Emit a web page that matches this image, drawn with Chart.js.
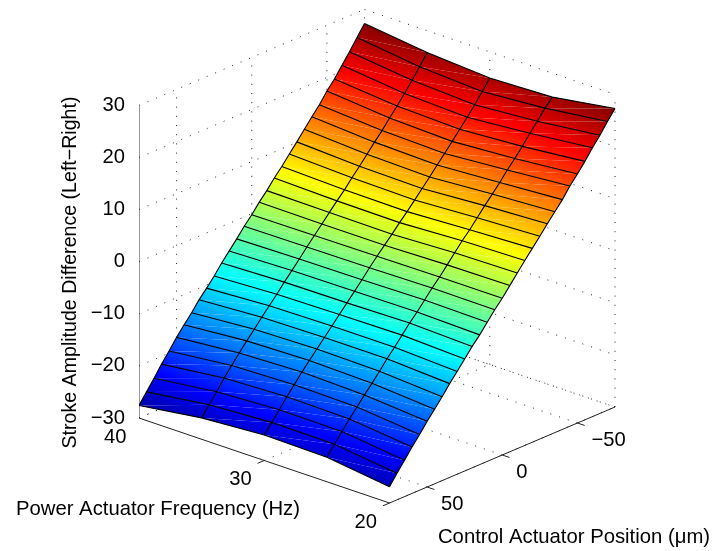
<!DOCTYPE html>
<html><head><meta charset="utf-8">
<style>html,body{margin:0;padding:0;background:#fff;overflow:hidden}canvas{display:block}</style>
<script src="https://cdn.jsdelivr.net/npm/chart.js@4"></script>
</head><body><canvas id="c" width="715" height="551"></canvas>
<script>
const ctrlValues = [75,70,65,60,55,50,45,40,35,30,25,20,15,10,5,0,-5,-10,-15,-20,-25,-30,-35,-40,-45,-50,-55,-60,-65,-70,-75];
const freqValues = [40,35,30,25,20];
const zAt40 = [-27.6,-25.6,-23.6,-21.5,-19.6,-17.6,-15.8,-14.1,-12.2,-10.6,-8.9,-7.0,-5.3,-3.6,-1.8,-0.2,1.6,3.2,5.0,6.6,8.4,10.1,11.9,13.7,15.4,17.4,19.1,21.1,23.1,25.2,27.3];
const zAt35 = [-25.9,-24.0,-22.1,-20.1,-18.3,-16.5,-14.8,-13.2,-11.5,-9.9,-8.3,-6.6,-5.0,-3.4,-1.7,-0.1,1.5,3.1,4.7,6.2,7.9,9.5,11.2,12.9,14.5,16.3,18.0,19.8,21.7,23.7,25.8];
const zAt30 = [-25.1,-23.3,-21.5,-19.6,-17.9,-16.1,-14.5,-12.9,-11.3,-9.7,-8.1,-6.5,-4.9,-3.3,-1.6,0.0,1.5,3.0,4.6,6.1,7.7,9.3,10.9,12.6,14.2,15.9,17.6,19.3,21.1,23.0,25.0];
const zAt25 = [-25.3,-23.4,-21.6,-19.8,-18.1,-16.4,-14.8,-13.1,-11.3,-9.7,-8.0,-6.3,-4.8,-3.1,-1.4,0.1,1.8,3.5,5.2,6.7,8.4,10.1,11.7,13.3,15.1,16.7,18.4,20.3,22.0,23.9,25.4];
const zAt20 = [-26.9,-24.9,-23.0,-21.1,-19.3,-17.4,-15.7,-13.9,-12.0,-10.3,-8.5,-6.7,-5.1,-3.3,-1.5,0.1,1.9,3.7,5.5,7.2,8.9,10.7,12.4,14.1,16.1,17.8,19.6,21.6,23.4,25.4,27.3];
const zRows = [zAt40,zAt35,zAt30,zAt25,zAt20];
const zTicks = [-30,-20,-10,0,10,20,30];
const freqTicks = [40,30,20];
const ctrlTicks = [50,0,-50];
const zTitle = 'Stroke Amplitude Difference (Left\u2212Right)';
const freqTitle = 'Power Actuator Frequency (Hz)';
const ctrlTitle = 'Control Actuator Position (\u03bcm)';

const FONT = 'Liberation Sans, Arial, sans-serif';
const colorMin = -30, colorMax = 27.5;
const view = {x0:389.5,y0:503,fx:-250.5/20,fy:-85/20,cx:225.5/150,cy:-96/150,zy:-5.21};
function flat(c,f,z){
  return {x:view.x0+(f-20)*view.fx+(75-c)*view.cx, y:view.y0+(f-20)*view.fy+(75-c)*view.cy+(z+30)*view.zy};
}
function jet(t){
  const k=v=>Math.round(255*Math.max(0,Math.min(1,v)));
  return `rgb(${k(1.5-Math.abs(4*t-3))},${k(1.5-Math.abs(4*t-2))},${k(1.5-Math.abs(4*t-1))})`;
}
const norm=z=>Math.max(0,Math.min(1,(z-colorMin)/(colorMax-colorMin)));
function triangleFill(c){
  const ch=c.chart, ds=c.dataset;
  if(!ch.scales.x||!ch.chartArea) return jet(norm(ds.vals[0]));
  const px=ds.data.slice(0,3).map(p=>({x:ch.scales.x.getPixelForValue(p.x),y:ch.scales.y.getPixelForValue(p.y)}));
  const v=ds.vals;
  const ax=px[1].x-px[0].x, ay=px[1].y-px[0].y, bx=px[2].x-px[0].x, by=px[2].y-px[0].y;
  const d1=v[1]-v[0], d2=v[2]-v[0], det=ax*by-ay*bx;
  if(Math.abs(det)<1e-6||(d1===0&&d2===0)) return jet(norm(v[0]));
  const gx=(d1*by-d2*ay)/det, gy=(ax*d2-bx*d1)/det, g2=gx*gx+gy*gy;
  const lo=Math.min(...v), hi=Math.max(...v), iLo=v.indexOf(lo), s=(hi-lo)/g2;
  const g=ch.ctx.createLinearGradient(px[iLo].x,px[iLo].y,px[iLo].x+gx*s,px[iLo].y+gy*s);
  const t0=norm(lo), t1=norm(hi);
  g.addColorStop(0,jet(t0));
  [0.125,0.375,0.625,0.875].forEach(b=>{ if(b>t0&&b<t1) g.addColorStop((b-t0)/(t1-t0),jet(b)); });
  g.addColorStop(1,jet(t1));
  return g;
}
const lineSet=(pts,color,width,dash)=>({data:pts,showLine:true,fill:false,borderColor:color,borderWidth:width,borderDash:dash||[],pointRadius:0,tension:0,borderCapStyle:'butt'});
const layers=[];
const DOT=[1,8.2];
const fMin=20,fMax=40,cMin=-75,cMax=75,zMin=-30,zMax=30;
ctrlTicks.concat([cMin]).forEach(c=>layers.push(lineSet([flat(c,fMin,zMin),flat(c,fMax,zMin)],'#222',1,DOT)));
freqTicks.forEach(f=>layers.push(lineSet([flat(cMax,f,zMin),flat(cMin,f,zMin)],'#222',1,DOT)));
zTicks.forEach(z=>{
  layers.push(lineSet([flat(cMax,fMax,z),flat(cMin,fMax,z)],'#222',1,DOT));
  layers.push(lineSet([flat(cMin,fMax,z),flat(cMin,fMin,z)],'#222',1,DOT));
});
ctrlTicks.forEach(c=>layers.push(lineSet([flat(c,fMax,zMin),flat(c,fMax,zMax)],'#222',1,DOT)));
freqTicks.forEach(f=>layers.push(lineSet([flat(cMin,f,zMin),flat(cMin,f,zMax)],'#222',1,DOT)));
layers.push(lineSet([flat(cMax,fMax,zMin),flat(cMax,fMax,zMax)],'#333',1));
layers.push(lineSet([flat(cMax,fMax,zMin),flat(cMax,fMin,zMin)],'#222',1));
layers.push(lineSet([flat(cMax,fMin,zMin),flat(cMin,fMin,zMin)],'#222',1));
zTicks.forEach(z=>layers.push(lineSet([flat(cMax,fMax,z),flat(cMax,fMax+0.58,z)],'#222',1)));
freqTicks.forEach(f=>layers.push(lineSet([flat(cMax,f,zMin),flat(cMax+4.4,f,zMin)],'#222',1)));
ctrlTicks.forEach(c=>layers.push(lineSet([flat(c,fMin,zMin),flat(c,fMin-0.58,zMin)],'#222',1)));
function tri(a,b,c){
  const P=([i,j])=>flat(ctrlValues[i],freqValues[j],zRows[j][i]);
  const V=([i,j])=>zRows[j][i];
  return {data:[P(a),P(b),P(c),P(a)],vals:[V(a),V(b),V(c)],showLine:true,fill:'shape',borderWidth:0,pointRadius:0,tension:0,backgroundColor:triangleFill};
}
for(let j=0;j<freqValues.length-1;j++){
  for(let i=0;i<ctrlValues.length-1;i++){
    layers.push(tri([i,j],[i,j+1],[i+1,j+1]));
    layers.push(tri([i,j],[i+1,j+1],[i+1,j]));
  }
}
ctrlValues.forEach((c,i)=>layers.push(lineSet(freqValues.map((f,j)=>flat(c,f,zRows[j][i])),'#000',1.1)));
freqValues.forEach((f,j)=>layers.push(lineSet(ctrlValues.map((c,i)=>flat(c,f,zRows[j][i])),'#000',1.1)));
const datasets=layers.reverse();

const zTop=flat(cMax,fMax,zMax).y, zBot=flat(cMax,fMax,zMin).y, perZ=-view.zy;
const axisText={id:'axisText',afterDraw(ch){
  const g=ch.ctx, X=ch.scales.x, Y=ch.scales.y;
  const put=(t,p,dx,dy,al,size)=>{g.font=size+'px '+FONT;g.fillStyle='#000';g.textAlign=al;g.textBaseline='middle';g.fillText(t,X.getPixelForValue(p.x)+dx,Y.getPixelForValue(p.y)+dy);};
  g.save();
  freqTicks.forEach(f=>put(String(f),flat(cMax,f,zMin),-12.5,19,'right',20.2));
  ctrlTicks.forEach(c=>put(String(c).replace('-','\u2212'),flat(c,fMin,zMin),14,17.5,'left',20.2));
  put(freqTitle,{x:158,y:509},0,0,'center',20.3);
  put(ctrlTitle,{x:574,y:537},0,0,'center',20.3);
  g.translate(X.getPixelForValue(71),Y.getPixelForValue(272.5));
  g.rotate(-Math.PI/2);
  g.font='19.6px '+FONT;g.textAlign='center';g.textBaseline='middle';g.fillStyle='#000';
  g.fillText(zTitle,0,0);
  g.restore();
}};
new Chart(document.getElementById('c'),{
  type:'scatter',
  data:{datasets},
  plugins:[axisText],
  options:{
    responsive:false,animation:false,
    layout:{padding:0},
    plugins:{legend:{display:false},tooltip:{enabled:false}},
    elements:{line:{tension:0}},
    scales:{
      x:{type:'linear',min:139,max:715,display:false},
      y:{type:'linear',min:0,max:551,reverse:true,display:false},
      z:{type:'linear',axis:'y',position:'left',
        min:zMin-(551-zBot)/perZ,max:zMax+zTop/perZ,
        afterBuildTicks(s){s.ticks=zTicks.map(v=>({value:v}));},
        afterFit(s){s.width=139;s.paddingTop=0;s.paddingBottom=0;s.paddingLeft=0;s.paddingRight=0;},
        grid:{display:false},border:{display:false},
        ticks:{padding:6,color:'#000',autoSkip:false,font:{family:FONT,size:20.2},callback:v=>String(v).replace('-','\u2212')}
      }
    }
  }
});
</script></body></html>
